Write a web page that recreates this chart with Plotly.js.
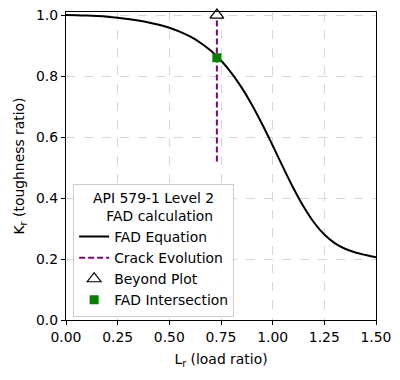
<!DOCTYPE html>
<html>
<head>
<meta charset="utf-8">
<script src="https://cdn.plot.ly/plotly-3.0.1.min.js"></script>
<style>html,body{margin:0;padding:0;background:#fff}#chart{width:400px;height:380px}</style>
</head>
<body>
<div id="chart"></div>
<script>
// FAD curve
const fadLr = [0.00,0.05,0.10,0.15,0.20,0.25,0.30,0.35,0.40,0.45,0.50,0.55,0.60,0.65,0.70,0.75,0.80,0.85,0.90,0.95,1.00,1.05,1.10,1.15,1.20,1.25,1.30,1.35,1.40,1.45,1.50];
const fadKr = [1.0000,0.9997,0.9986,0.9968,0.9944,0.9911,0.9871,0.9820,0.9758,0.9680,0.9582,0.9457,0.9297,0.9093,0.8834,0.8508,0.8106,0.7620,0.7053,0.6413,0.5723,0.5014,0.4330,0.3713,0.3198,0.2802,0.2522,0.2337,0.2215,0.2129,0.2058];
// Crack evolution
const crackLr = [0.73, 0.73];
const crackKr = [0.52, 1.00];
// Beyond plot marker
const beyondLr = [0.73];
const beyondKr = [1.00];
// FAD intersection
const interLr = [0.73];
const interKr = [0.86];

const xTicks = [0, 0.25, 0.5, 0.75, 1.0, 1.25, 1.5];
const xTickText = ["0.00","0.25","0.50","0.75","1.00","1.25","1.50"];
const yTicks = [0, 0.2, 0.4, 0.6, 0.8, 1.0];
const yTickText = ["0.0","0.2","0.4","0.6","0.8","1.0"];

const font = {family: "DejaVu Sans", size: 13.9, color: "#000"};

const traces = [
  {x: fadLr, y: fadKr, mode: "lines", name: "FAD Equation",
   line: {color: "#000", width: 2, shape: "spline"}},
  {x: crackLr, y: crackKr, mode: "lines", name: "Crack Evolution",
   line: {color: "#800080", width: 2, dash: "6px,3px"}},
  {x: beyondLr, y: beyondKr, mode: "markers", name: "Beyond Plot", cliponaxis: false,
   marker: {symbol: "triangle-up", size: 12, color: "#fff", line: {color: "#000", width: 1.2}}},
  {x: interLr, y: interKr, mode: "markers", name: "FAD Intersection",
   marker: {symbol: "square", size: 9, color: "#008000", line: {width: 0}}}
];

const axisCommon = {
  showline: true, linecolor: "#000", linewidth: 1.2, mirror: true,
  ticks: "outside", ticklen: 4, tickcolor: "#000", tickwidth: 1,
  showgrid: true, gridcolor: "#d6d6d6", griddash: "dash", gridwidth: 1,
  zeroline: false, tickfont: font
};

const layout = {
  width: 400, height: 380,
  margin: {l: 66, r: 24, t: 12, b: 60},
  paper_bgcolor: "#fff", plot_bgcolor: "#fff",
  font: font,
  showlegend: true,
  xaxis: Object.assign({}, axisCommon, {
    range: [0, 1.5], tickvals: xTicks, ticktext: xTickText,
    title: {text: "L<sub>r</sub> (load ratio)", font: font, standoff: 10}
  }),
  yaxis: Object.assign({}, axisCommon, {
    range: [0, 1.01], tickvals: yTicks, ticktext: yTickText,
    title: {text: "K<sub>r</sub> (toughness ratio)", font: font, standoff: 8}
  }),
  legend: {
    x: 0.023, y: 0.01, xanchor: "left", yanchor: "bottom",
    bgcolor: "rgba(255,255,255,0.85)", bordercolor: "#cccccc", borderwidth: 1,
    font: font, itemwidth: 30,
    title: {text: "API 579-1 Level 2<br>&nbsp;&nbsp;&nbsp;FAD calculation", side: "top center", font: font}
  }
};

Plotly.newPlot("chart", traces, layout, {displayModeBar: false, staticPlot: true});
</script>
</body>
</html>
